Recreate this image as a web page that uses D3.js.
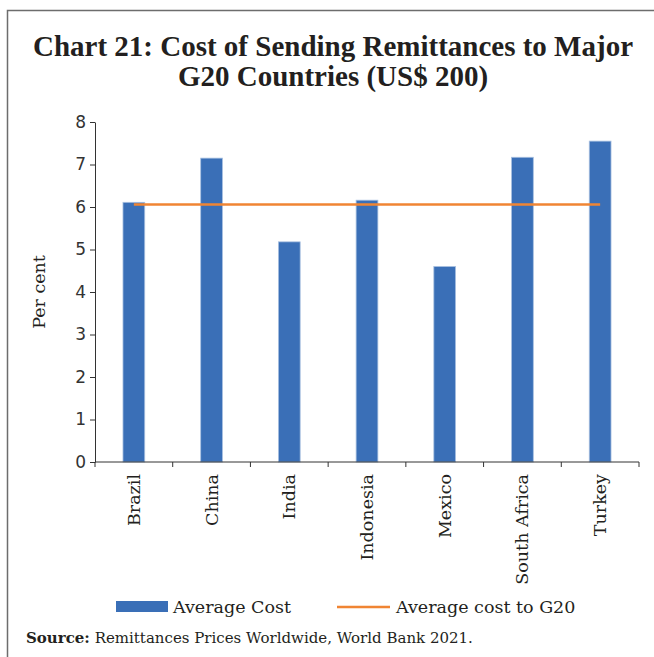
<!DOCTYPE html>
<html>
<head>
<meta charset="utf-8">
<script src="https://cdn.jsdelivr.net/npm/d3@7"></script>
<style>
  body { margin: 0; background: #fff; }
  svg { display: block; }
</style>
</head>
<body>
<div id="chart"></div>
<script>
// values
var countries = ["Brazil", "China", "India", "Indonesia", "Mexico", "South Africa", "Turkey"];
var avgCost = [6.11, 7.15, 5.18, 6.16, 4.60, 7.17, 7.55];
var g20Avg = 6.06;
var yTicks = [0, 1, 2, 3, 4, 5, 6, 7, 8];

var width = 654, height = 657;
var margin = {top: 122, right: 15, bottom: 195, left: 95};
var titleFont = "'Liberation Serif', serif";
var serif = "'DejaVu Serif', serif";
var sans = "'DejaVu Sans', Verdana, sans-serif";

var svg = d3.select("#chart").append("svg")
    .attr("width", width)
    .attr("height", height);

// frame
svg.append("path")
    .attr("d", "M7.5," + height + "V10.5H" + width)
    .attr("fill", "none")
    .attr("stroke", "#6d6d6d")
    .attr("stroke-width", 1.5);

// title
var title = svg.append("text")
    .attr("text-anchor", "middle")
    .style("font-family", titleFont)
    .style("font-weight", "bold")
    .style("font-size", "29px")
    .attr("fill", "#231f20");
title.append("tspan").attr("x", 333).attr("y", 56).text("Chart 21: Cost of Sending Remittances to Major");
title.append("tspan").attr("x", 333).attr("y", 86).text("G20 Countries (US$ 200)");

var x = d3.scaleBand()
    .domain(countries)
    .range([margin.left, width - margin.right])
    .paddingInner(0.72)
    .paddingOuter(0.36);

var y = d3.scaleLinear()
    .domain([0, 8])
    .range([height - margin.bottom, margin.top]);

// bars
svg.selectAll("rect.bar")
    .data(countries)
    .enter().append("rect")
    .attr("class", "bar")
    .attr("x", function(d) { return x(d); })
    .attr("width", x.bandwidth())
    .attr("y", function(d, i) { return y(avgCost[i]); })
    .attr("height", function(d, i) { return y(0) - y(avgCost[i]); })
    .attr("fill", "#3a6fb7")
    .attr("stroke", "#a8c0e0")
    .attr("stroke-width", 0.8);

// G20 average line from first to last category centre
var line = d3.line()
    .x(function(d) { return x(d) + x.bandwidth() / 2; })
    .y(function() { return y(g20Avg); });
svg.append("path")
    .datum(countries)
    .attr("d", line)
    .attr("fill", "none")
    .attr("stroke", "#f08533")
    .attr("stroke-width", 2.5);

// y axis
var yAxis = svg.append("g")
    .attr("transform", "translate(" + margin.left + ",0)")
    .call(d3.axisLeft(y).tickValues(yTicks).tickSize(5).tickSizeOuter(0));
yAxis.select(".domain").attr("stroke", "#333");
yAxis.selectAll(".tick line").attr("stroke", "#333");
yAxis.selectAll(".tick text")
    .attr("x", -9)
    .style("font-family", sans)
    .style("font-size", "17px")
    .attr("fill", "#333");

// x axis, ticks at the band edges
var xg = svg.append("g");
xg.append("line")
    .attr("x1", margin.left).attr("x2", width - margin.right)
    .attr("y1", y(0)).attr("y2", y(0))
    .attr("stroke", "#333");
xg.selectAll("line.tk")
    .data(d3.range(countries.length + 1))
    .enter().append("line")
    .attr("class", "tk")
    .attr("x1", function(i) { return margin.left + i * x.step(); })
    .attr("x2", function(i) { return margin.left + i * x.step(); })
    .attr("y1", y(0)).attr("y2", y(0) + 5)
    .attr("stroke", "#333");
xg.selectAll("text")
    .data(countries)
    .enter().append("text")
    .attr("transform", function(d) {
        return "translate(" + (x(d) + x.bandwidth() / 2 + 6) + "," + (y(0) + 12) + ") rotate(-90)";
    })
    .attr("text-anchor", "end")
    .style("font-family", serif)
    .style("font-size", "17.5px")
    .attr("fill", "#231f20")
    .text(function(d) { return d; });

// y label
svg.append("text")
    .attr("transform", "translate(45," + y(4) + ") rotate(-90)")
    .attr("text-anchor", "middle")
    .style("font-family", serif)
    .style("font-size", "17.5px")
    .attr("fill", "#231f20")
    .text("Per cent");

// legend
var lg = svg.append("g").attr("transform", "translate(0,607)");
lg.append("rect").attr("x", 116).attr("y", -6).attr("width", 52).attr("height", 11).attr("fill", "#3a6fb7");
lg.append("text").attr("x", 173).attr("y", 6)
    .style("font-family", serif).style("font-size", "17.5px").attr("fill", "#231f20")
    .text("Average Cost");
lg.append("line").attr("x1", 337).attr("x2", 390).attr("y1", 0).attr("y2", 0)
    .attr("stroke", "#f08533").attr("stroke-width", 2.5);
lg.append("text").attr("x", 396).attr("y", 6)
    .style("font-family", serif).style("font-size", "17.5px").attr("fill", "#231f20")
    .text("Average cost to G20");

// source
var src = svg.append("text").attr("x", 26).attr("y", 643)
    .style("font-family", serif).style("font-size", "15px").attr("fill", "#231f20");
src.append("tspan").style("font-weight", "bold").text("Source:");
src.append("tspan").text(" Remittances Prices Worldwide, World Bank 2021.");
</script>
</body>
</html>
